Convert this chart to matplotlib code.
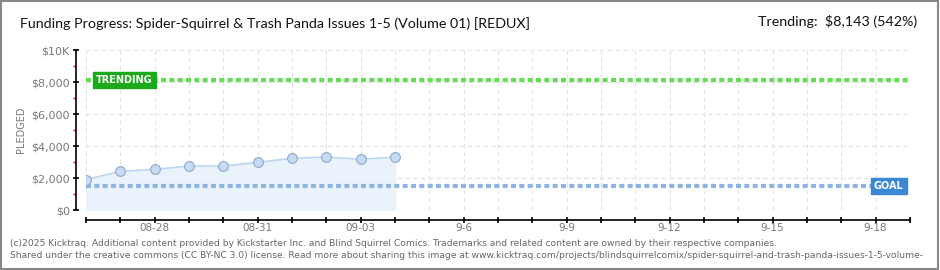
import numpy as np
import matplotlib.pyplot as plt
from matplotlib.patches import Rectangle

title = "Funding Progress: Spider-Squirrel & Trash Panda Issues 1-5 (Volume 01) [REDUX]"
pledged = [1900, 2420, 2540, 2750, 2750, 2980, 3230, 3310, 3170, 3310]
goal = 1500
trending = 8143
n_days = 24
tick_days = [2, 5, 8, 11, 14, 17, 20, 23]
tick_labels = ['08-28', '08-31', '09-03', '9-6', '9-9', '9-12', '9-15', '9-18']
y_major = [0, 2000, 4000, 6000, 8000, 10000]
y_labels = ['$0', '$2,000', '$4,000', '$6,000', '$8,000', '$10K']
y_minor = [1000, 3000, 5000, 7000, 9000]

plt.rcParams['font.family'] = ['DejaVu Sans']

fig = plt.figure(figsize=(9.4, 2.7), dpi=100)
fig.patches.append(Rectangle((0.001, 0.002), 0.997, 0.995, transform=fig.transFigure,
                             fill=False, edgecolor='#888888', linewidth=1.5))

W, H = 940, 270
ax = fig.add_axes([86 / W, 1 - 210 / H, (910 - 86) / W, 160 / H])
ax.set_xlim(0, n_days)
ax.set_ylim(0, 10000)

# grid
for d in range(n_days + 1):
    ax.axvline(d, color='#e2e2e2', linewidth=0.8, linestyle=(0, (4, 3)), zorder=0)
for yv in y_major:
    ax.axhline(yv, color='#e2e2e2', linewidth=0.8, linestyle=(0, (4, 3)), zorder=0)

x = np.arange(len(pledged))
ax.fill_between(x, pledged, 0, color='#eaf2fc', zorder=1)
ax.plot(x, pledged, color='#bcd6f3', linewidth=1.2, zorder=2)
ax.plot(x, pledged, 'o', markersize=7, markerfacecolor='#c6dcf6',
        markeredgecolor='#8fa7c4', markeredgewidth=0.8, zorder=3)

ax.axhline(goal, color='#8db4e2', linewidth=3, linestyle=(0, (1.2, 0.8)), zorder=2)
ax.axhline(trending, color='#66dd55', linewidth=3, linestyle=(0, (1.2, 0.8)), zorder=2)

ax.text(0.3, trending, 'TRENDING', color='white', fontsize=7, fontweight='bold',
        va='center', ha='left', zorder=5,
        bbox=dict(boxstyle='square,pad=0.3', facecolor='#1aaa1a', edgecolor='#1aaa1a'))
ax.text(22.95, goal, 'GOAL', color='white', fontsize=7, fontweight='bold',
        va='center', ha='left', zorder=5,
        bbox=dict(boxstyle='square,pad=0.3', facecolor='#3a87d6', edgecolor='#3a87d6'))

for s in ['top', 'right']:
    ax.spines[s].set_visible(False)
ax.spines['left'].set_position(('outward', 7.2))
ax.spines['bottom'].set_position(('outward', 7.2))
ax.spines['left'].set_linewidth(1.2)
ax.spines['bottom'].set_linewidth(1.2)

ax.set_yticks(y_major)
ax.set_yticklabels(y_labels, color='#777777', fontsize=8)
ax.set_yticks(y_minor, minor=True)
ax.tick_params(axis='y', which='major', direction='inout', length=5, width=1.2, color='black', pad=2)
ax.tick_params(axis='y', which='minor', direction='out', length=2.5, width=1, color='red')

ax.set_xticks(range(n_days + 1), minor=True)
ax.set_xticks(tick_days)
ax.set_xticklabels(tick_labels, color='#777777', fontsize=7.5)
ax.tick_params(axis='x', which='both', direction='inout', length=5, width=1.2, color='black', pad=0)

ax.set_ylabel('PLEDGED', color='#777777', fontsize=7, labelpad=4)

fig.text(20 / W, 1 - 24 / H, title, fontsize=10.3, va='center', ha='left', color='#111111',
         family=['Lato', 'DejaVu Sans'])
fig.text(917 / W, 1 - 22 / H, 'Trending:  $8,143 (542%)', fontsize=10.3, va='center',
         ha='right', color='#111111', family=['Lato', 'DejaVu Sans'])

foot1 = ("(c)2025 Kicktraq. Additional content provided by Kickstarter Inc. and Blind Squirrel Comics. "
         "Trademarks and related content are owned by their respective companies.")
foot2 = ("Shared under the creative commons (CC BY-NC 3.0) license. Read more about sharing this image at "
         "www.kicktraq.com/projects/blindsquirrelcomix/spider-squirrel-and-trash-panda-issues-1-5-volume-")
fig.text(10 / W, 1 - 243 / H, foot1, fontsize=6.6, color='#666666', va='center')
fig.text(10 / W, 1 - 256 / H, foot2, fontsize=6.6, color='#666666', va='center')

fig.savefig('out.png', dpi=100)
